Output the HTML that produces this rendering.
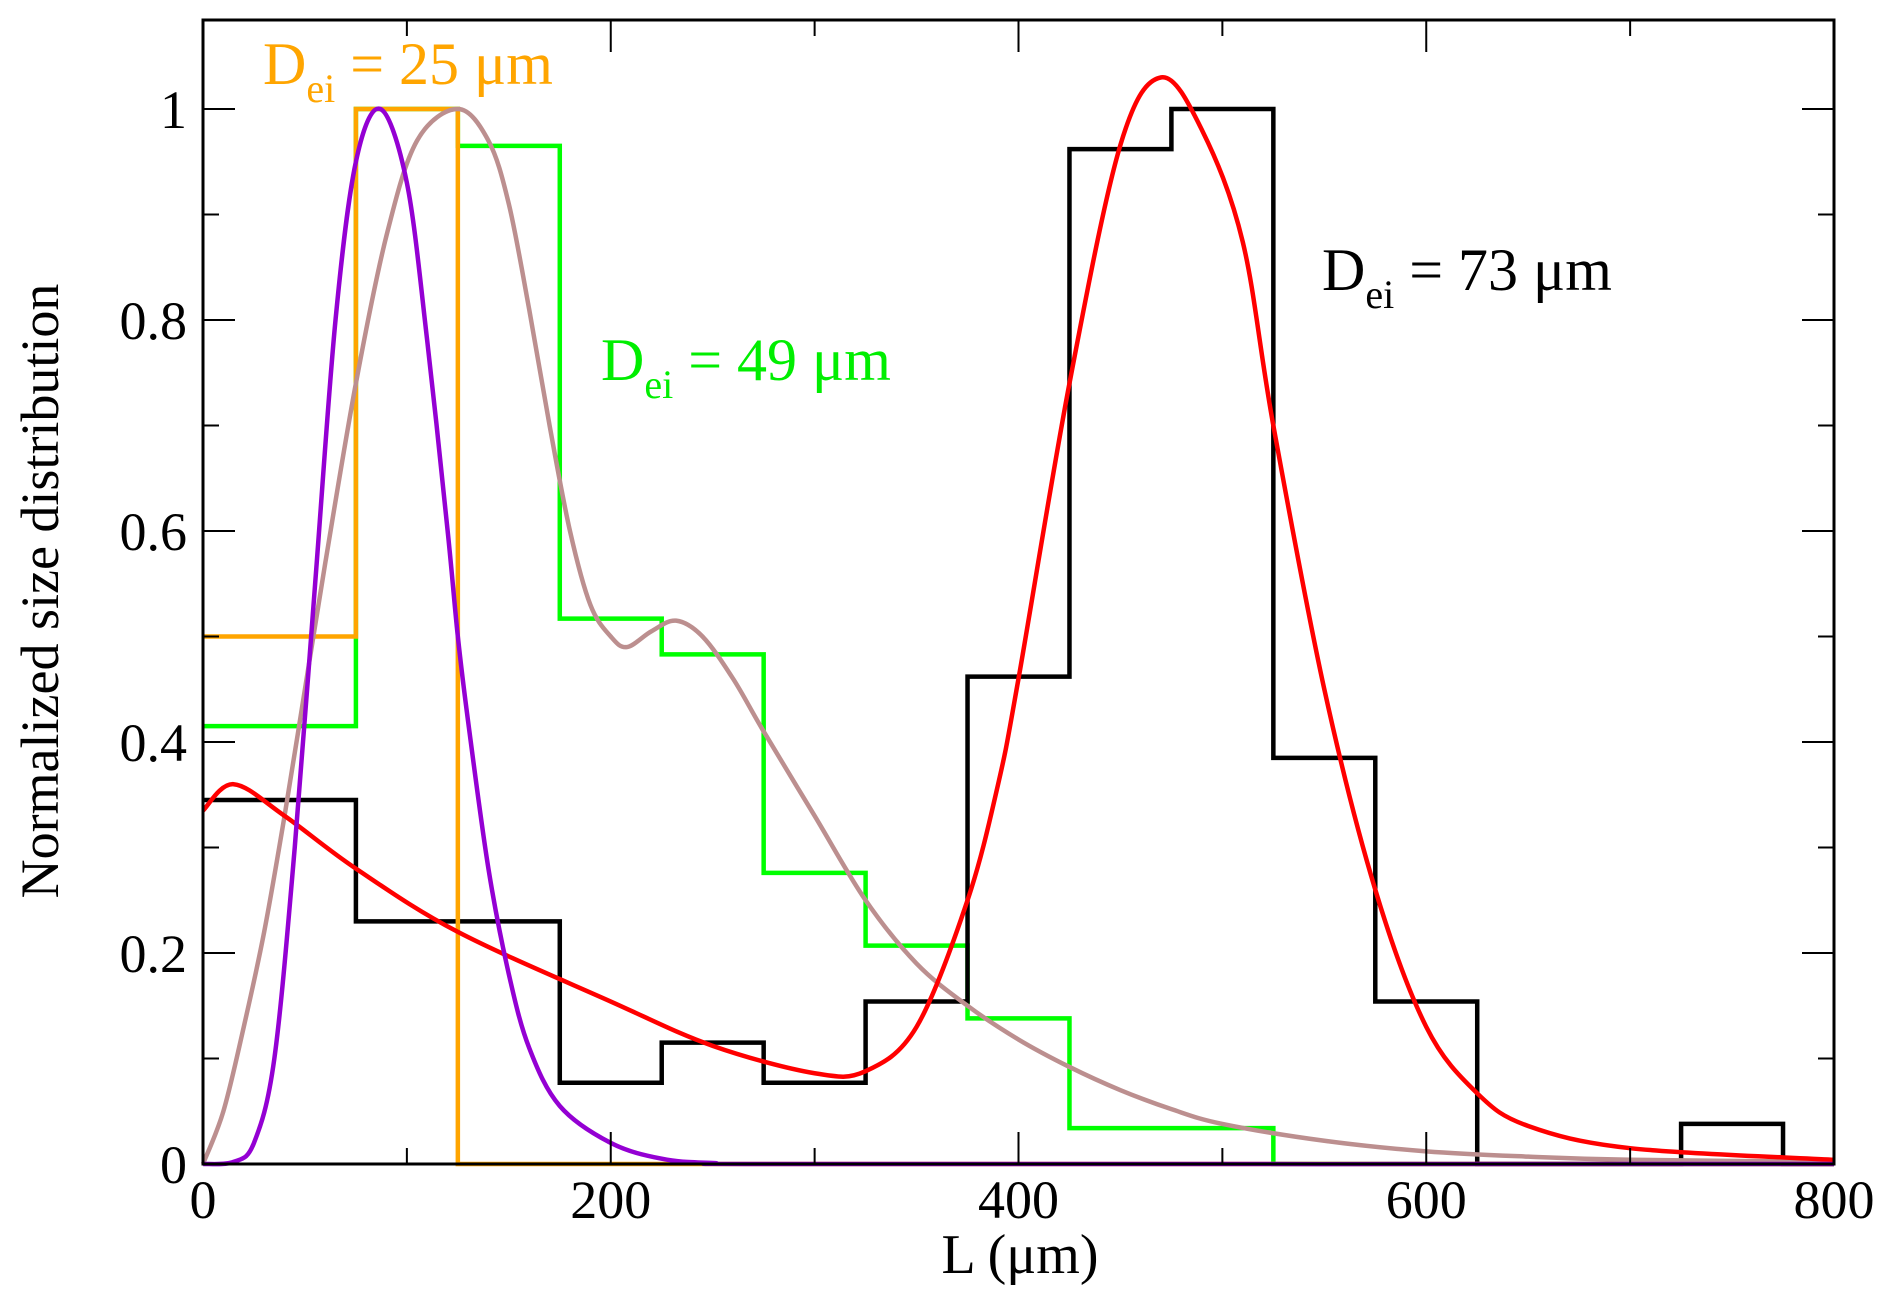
<!DOCTYPE html>
<html><head><meta charset="utf-8"><style>
html,body{margin:0;padding:0;background:#fff}
svg{display:block}
text{font-family:"Liberation Serif",serif}
</style></head><body>
<svg id="chart" width="1892" height="1304" viewBox="0 0 1892 1304">
<g id="marks"></g>
<g id="axes"></g>
</svg>
<script>
const edges = [0,75,125,175,225,275,325,375,425,475,525,575,625,725,775,800];
const blackHist = [0.345,0.23,0.23,0.077,0.115,0.077,0.154,0.462,0.962,1.0,0.385,0.154,0,0.038,0];
const greenHist = [0.415,1.0,0.965,0.517,0.483,0.276,0.207,0.138,0.034,0.034,0,0,0,0,0];
const orangeHist = [0.5,1.0,0,0,0,0,0,0,0,0,0,0,0,0,0];
const purpleL = [0,15,25,35,45,55,65,75,87,100,110,120,125,130,140,150,160,175,200,225,250,300,800];
const purpleY = [0,0.002,0.02,0.1,0.3,0.55,0.8,0.95,1.0,0.93,0.78,0.6,0.5,0.42,0.28,0.18,0.11,0.055,0.02,0.005,0.001,0,0];
const brownL = [0,10,20,30,40,50,60,75,90,105,125,140,150,160,170,180,190,200,208,220,232,245,260,275,300,325,350,375,400,425,450,475,500,550,600,650,700,800];
const brownY = [0,0.05,0.13,0.22,0.33,0.45,0.57,0.74,0.88,0.97,1.0,0.97,0.91,0.81,0.7,0.6,0.53,0.5,0.49,0.505,0.515,0.5,0.46,0.41,0.33,0.25,0.19,0.15,0.118,0.092,0.07,0.052,0.038,0.022,0.012,0.007,0.004,0.002];
const redL = [0,15,40,75,125,200,250,300,325,350,375,390,400,425,450,470,490,510,525,550,575,600,625,650,700,800];
const redY = [0.335,0.36,0.33,0.28,0.22,0.154,0.112,0.086,0.088,0.13,0.25,0.36,0.46,0.74,0.966,1.03,0.98,0.874,0.7,0.45,0.26,0.13,0.067,0.036,0.015,0.004];
const xTicks = [0,200,400,600,800];
const xMinor = [100,300,500,700];
const yTicks = [0,0.2,0.4,0.6,0.8,1];
const yTickLabels = ["0","0.2","0.4","0.6","0.8","1"];
const yMinor = [0.1,0.3,0.5,0.7,0.9];

const L=203,R=1834,T=20,B=1164,Y1=109;
const sx=v=>L+v*(R-L)/800;
const sy=v=>B-v*(B-Y1);
const NS="http://www.w3.org/2000/svg";
const marks=document.getElementById('marks');
const axes=document.getElementById('axes');
function mk(tag,attrs,parent){const e=document.createElementNS(NS,tag);for(const k in attrs)e.setAttribute(k,attrs[k]);parent.appendChild(e);return e;}
function histPath(vals){let d=`M${sx(edges[0])},${sy(vals[0])}`;for(let i=0;i<vals.length;i++){if(i>0)d+=` L${sx(edges[i])},${sy(vals[i])}`;d+=` L${sx(edges[i+1])},${sy(vals[i])}`;}return d;}
function curvePath(xs,ys){
  const P=xs.map((x,i)=>[sx(x),sy(ys[i])]);
  let d=`M${P[0][0]},${P[0][1]}`;
  for(let i=0;i<P.length-1;i++){
    const p0=P[i-1]||P[i],p1=P[i],p2=P[i+1],p3=P[i+2]||P[i+1];
    const c1=[p1[0]+(p2[0]-p0[0])/6,p1[1]+(p2[1]-p0[1])/6];
    const c2=[p2[0]-(p3[0]-p1[0])/6,p2[1]-(p3[1]-p1[1])/6];
    d+=` C${c1[0]},${c1[1]} ${c2[0]},${c2[1]} ${p2[0]},${p2[1]}`;
  }
  return d;
}

let p;
p=mk('path',{d:histPath(greenHist),fill:'none',stroke:'#00ff00','stroke-width':4.5},marks);


p=mk('path',{d:histPath(blackHist),fill:'none',stroke:'#000','stroke-width':4.5},marks);


p=mk('path',{d:histPath(orangeHist),fill:'none',stroke:'#ffa500','stroke-width':4.5},marks);


p=mk('path',{d:curvePath(brownL,brownY),fill:'none',stroke:'#bc8f8f','stroke-width':4.5},marks);


p=mk('path',{d:curvePath(redL,redY),fill:'none',stroke:'#ff0000','stroke-width':4.5},marks);


p=mk('path',{d:curvePath(purpleL,purpleY),fill:'none',stroke:'#9400d3','stroke-width':4.5},marks);



let f=mk('rect',{x:L,y:T,width:R-L,height:B-T,fill:'none',stroke:'#000','stroke-width':3},axes);


xTicks.forEach(v=>{
  mk('line',{x1:sx(v),x2:sx(v),y1:B,y2:B-32,stroke:'#000','stroke-width':2},axes);
  mk('line',{x1:sx(v),x2:sx(v),y1:T,y2:T+32,stroke:'#000','stroke-width':2},axes);
  const t=mk('text',{x:sx(v),y:1218,'font-size':54,'text-anchor':'middle'},axes);
  t.textContent=v;
  
  
});
xMinor.forEach(v=>{
  mk('line',{x1:sx(v),x2:sx(v),y1:B,y2:B-16,stroke:'#000','stroke-width':2},axes);
  mk('line',{x1:sx(v),x2:sx(v),y1:T,y2:T+16,stroke:'#000','stroke-width':2},axes);
});
yTicks.forEach((v,i)=>{
  mk('line',{x1:L,x2:L+32,y1:sy(v),y2:sy(v),stroke:'#000','stroke-width':2},axes);
  mk('line',{x1:R,x2:R-32,y1:sy(v),y2:sy(v),stroke:'#000','stroke-width':2},axes);
  const t=mk('text',{x:187,y:sy(v)+19,'font-size':54,'text-anchor':'end'},axes);
  t.textContent=yTickLabels[i];
  
  
});
yMinor.forEach(v=>{
  mk('line',{x1:L,x2:L+16,y1:sy(v),y2:sy(v),stroke:'#000','stroke-width':2},axes);
  mk('line',{x1:R,x2:R-16,y1:sy(v),y2:sy(v),stroke:'#000','stroke-width':2},axes);
});
</script>
<svg style="position:absolute;left:0;top:0" width="1892" height="1304">
<text x="1020" y="1273" font-size="56" text-anchor="middle">L (μm)</text>
<text transform="translate(58,591) rotate(-90)" font-size="54" text-anchor="middle">Normalized size distribution</text>
<text x="263" y="84" font-size="60" fill="#ffa500">D<tspan font-size="40" dy="18">ei</tspan><tspan dy="-18"> = 25  μm</tspan></text>
<text x="601" y="380" font-size="60" fill="#00ee00">D<tspan font-size="40" dy="18">ei</tspan><tspan dy="-18"> = 49  μm</tspan></text>
<text x="1322" y="290" font-size="60" fill="#000">D<tspan font-size="40" dy="18">ei</tspan><tspan dy="-18"> = 73 μm</tspan></text>
</svg>
</body></html>
